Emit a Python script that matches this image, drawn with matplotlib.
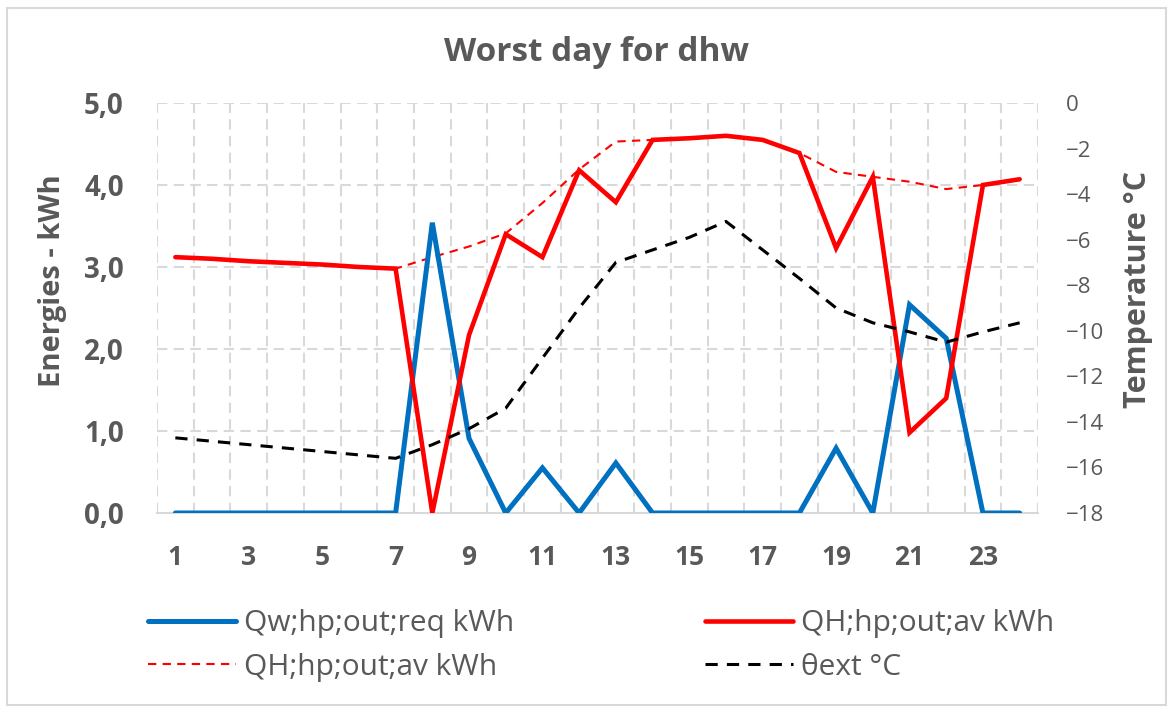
import matplotlib.pyplot as plt
from matplotlib.patches import Rectangle

hours = list(range(1, 25))

# Qw;hp;out;req kWh (left axis)
q_w_req = [0, 0, 0, 0, 0, 0, 0, 3.54, 0.91, 0, 0.55, 0, 0.61, 0, 0, 0, 0, 0,
           0.79, 0, 2.54, 2.13, 0, 0]
# QH;hp;out;av kWh - actual
q_h_av = [3.12, 3.10, 3.07, 3.05, 3.03, 3.00, 2.98, 0.0, 2.17, 3.40, 3.12, 4.18,
          3.79, 4.55, 4.57, 4.60, 4.55, 4.39, 3.23, 4.10, 0.98, 1.40, 4.00, 4.07]
# QH;hp;out;av kWh - available (dashed)
q_h_av_max = [3.12, 3.10, 3.07, 3.05, 3.03, 3.00, 2.98, 3.12, 3.25, 3.41, 3.78, 4.19,
              4.53, 4.55, 4.57, 4.60, 4.55, 4.39, 4.16, 4.10, 4.04, 3.95, 4.00, 4.07]
# external temperature (right axis)
t_ext = [-14.7, -14.85, -15.0, -15.15, -15.3, -15.45, -15.6, -15.0, -14.3, -13.4,
         -11.2, -9.0, -7.0, -6.45, -5.9, -5.2, -6.45, -7.7, -9.0, -9.65, -10.05,
         -10.5, -10.05, -9.65]

txt = '#595959'
grid_c = '#D9D9D9'
plt.rcParams['font.family'] = ['Open Sans', 'DejaVu Sans']

fig = plt.figure(figsize=(11.73, 7.11), dpi=100)
ax = fig.add_axes([157 / 1173, 1 - 513 / 711, (1038 - 157) / 1173, (513 - 103) / 711])
ax2 = ax.twinx()

# grid
for v in [1, 2, 3, 4, 5]:
    ax.axhline(v, color=grid_c, lw=1.5, ls=(0, (5, 3)), zorder=0)
for x in [h + 0.5 for h in range(0, 25)]:
    ax.axvline(x, color=grid_c, lw=1.5, ls=(0, (5, 3)), zorder=0)

l_dash, = ax.plot(hours, q_h_av_max, color='red', lw=1.5, ls=(0, (4, 3)), zorder=2)
l_blue, = ax.plot(hours, q_w_req, color='#0070C0', lw=3.6, solid_capstyle='round',
                  solid_joinstyle='miter', zorder=3)
l_red, = ax.plot(hours, q_h_av, color='red', lw=3.3, solid_capstyle='round',
                 solid_joinstyle='miter', zorder=4)
l_t, = ax2.plot(hours, t_ext, color='black', lw=2.2, ls=(0, (4, 3)))

ax.set_xlim(0.5, 24.5)
ax.set_ylim(0, 5)
ax2.set_ylim(-18, 0)
ax.set_xticks(range(1, 24, 2))
ax.set_yticks([0, 1, 2, 3, 4, 5])
ax.set_yticklabels(['0,0', '1,0', '2,0', '3,0', '4,0', '5,0'])
ax2.set_yticks(range(-18, 1, 2))

for a in (ax, ax2):
    for s in a.spines.values():
        s.set_visible(False)
ax.spines['bottom'].set_visible(True)
ax.spines['bottom'].set_color(grid_c)
ax.spines['bottom'].set_linewidth(1.5)

ax.tick_params(axis='x', length=0, pad=22, labelsize=19, labelcolor=txt)
ax.tick_params(axis='y', length=0, pad=24, labelsize=20, labelcolor=txt)
ax2.tick_params(axis='y', length=0, pad=20, labelsize=16, labelcolor=txt)
for lab in ax.get_xticklabels() + ax.get_yticklabels():
    lab.set_fontweight('bold')

ax.set_ylabel('Energies - kWh', fontsize=21, fontweight='bold', color=txt, va='center')
ax.yaxis.set_label_coords(-0.119, 0.566)
ax2.set_ylabel('Temperature °C', fontsize=22, fontweight='bold', color=txt,
               rotation=90, va='center')
ax2.yaxis.set_label_coords(1.114, 0.545)
fig.suptitle('Worst day for dhw', x=0.509, y=1 - 36 / 711, fontsize=24,
             fontweight='bold', color=txt)

fig.legend([l_blue, l_dash, l_red, l_t],
           ['Qw;hp;out;req kWh', 'QH;hp;out;av kWh', 'QH;hp;out;av kWh', 'θext °C'],
           ncol=2, loc='upper left', bbox_to_anchor=(148 / 1173, 1 - 609 / 711),
           borderaxespad=0, borderpad=0,
           frameon=False, fontsize=21.5, labelcolor=txt, handlelength=2.95,
           columnspacing=6.4, labelspacing=0.5, handletextpad=0.26)

fig.patches.append(Rectangle((0.006, 0.008), 0.988, 0.981, transform=fig.transFigure,
                             fill=False, edgecolor=grid_c, lw=1.5))

fig.savefig('out.png', dpi=100)
